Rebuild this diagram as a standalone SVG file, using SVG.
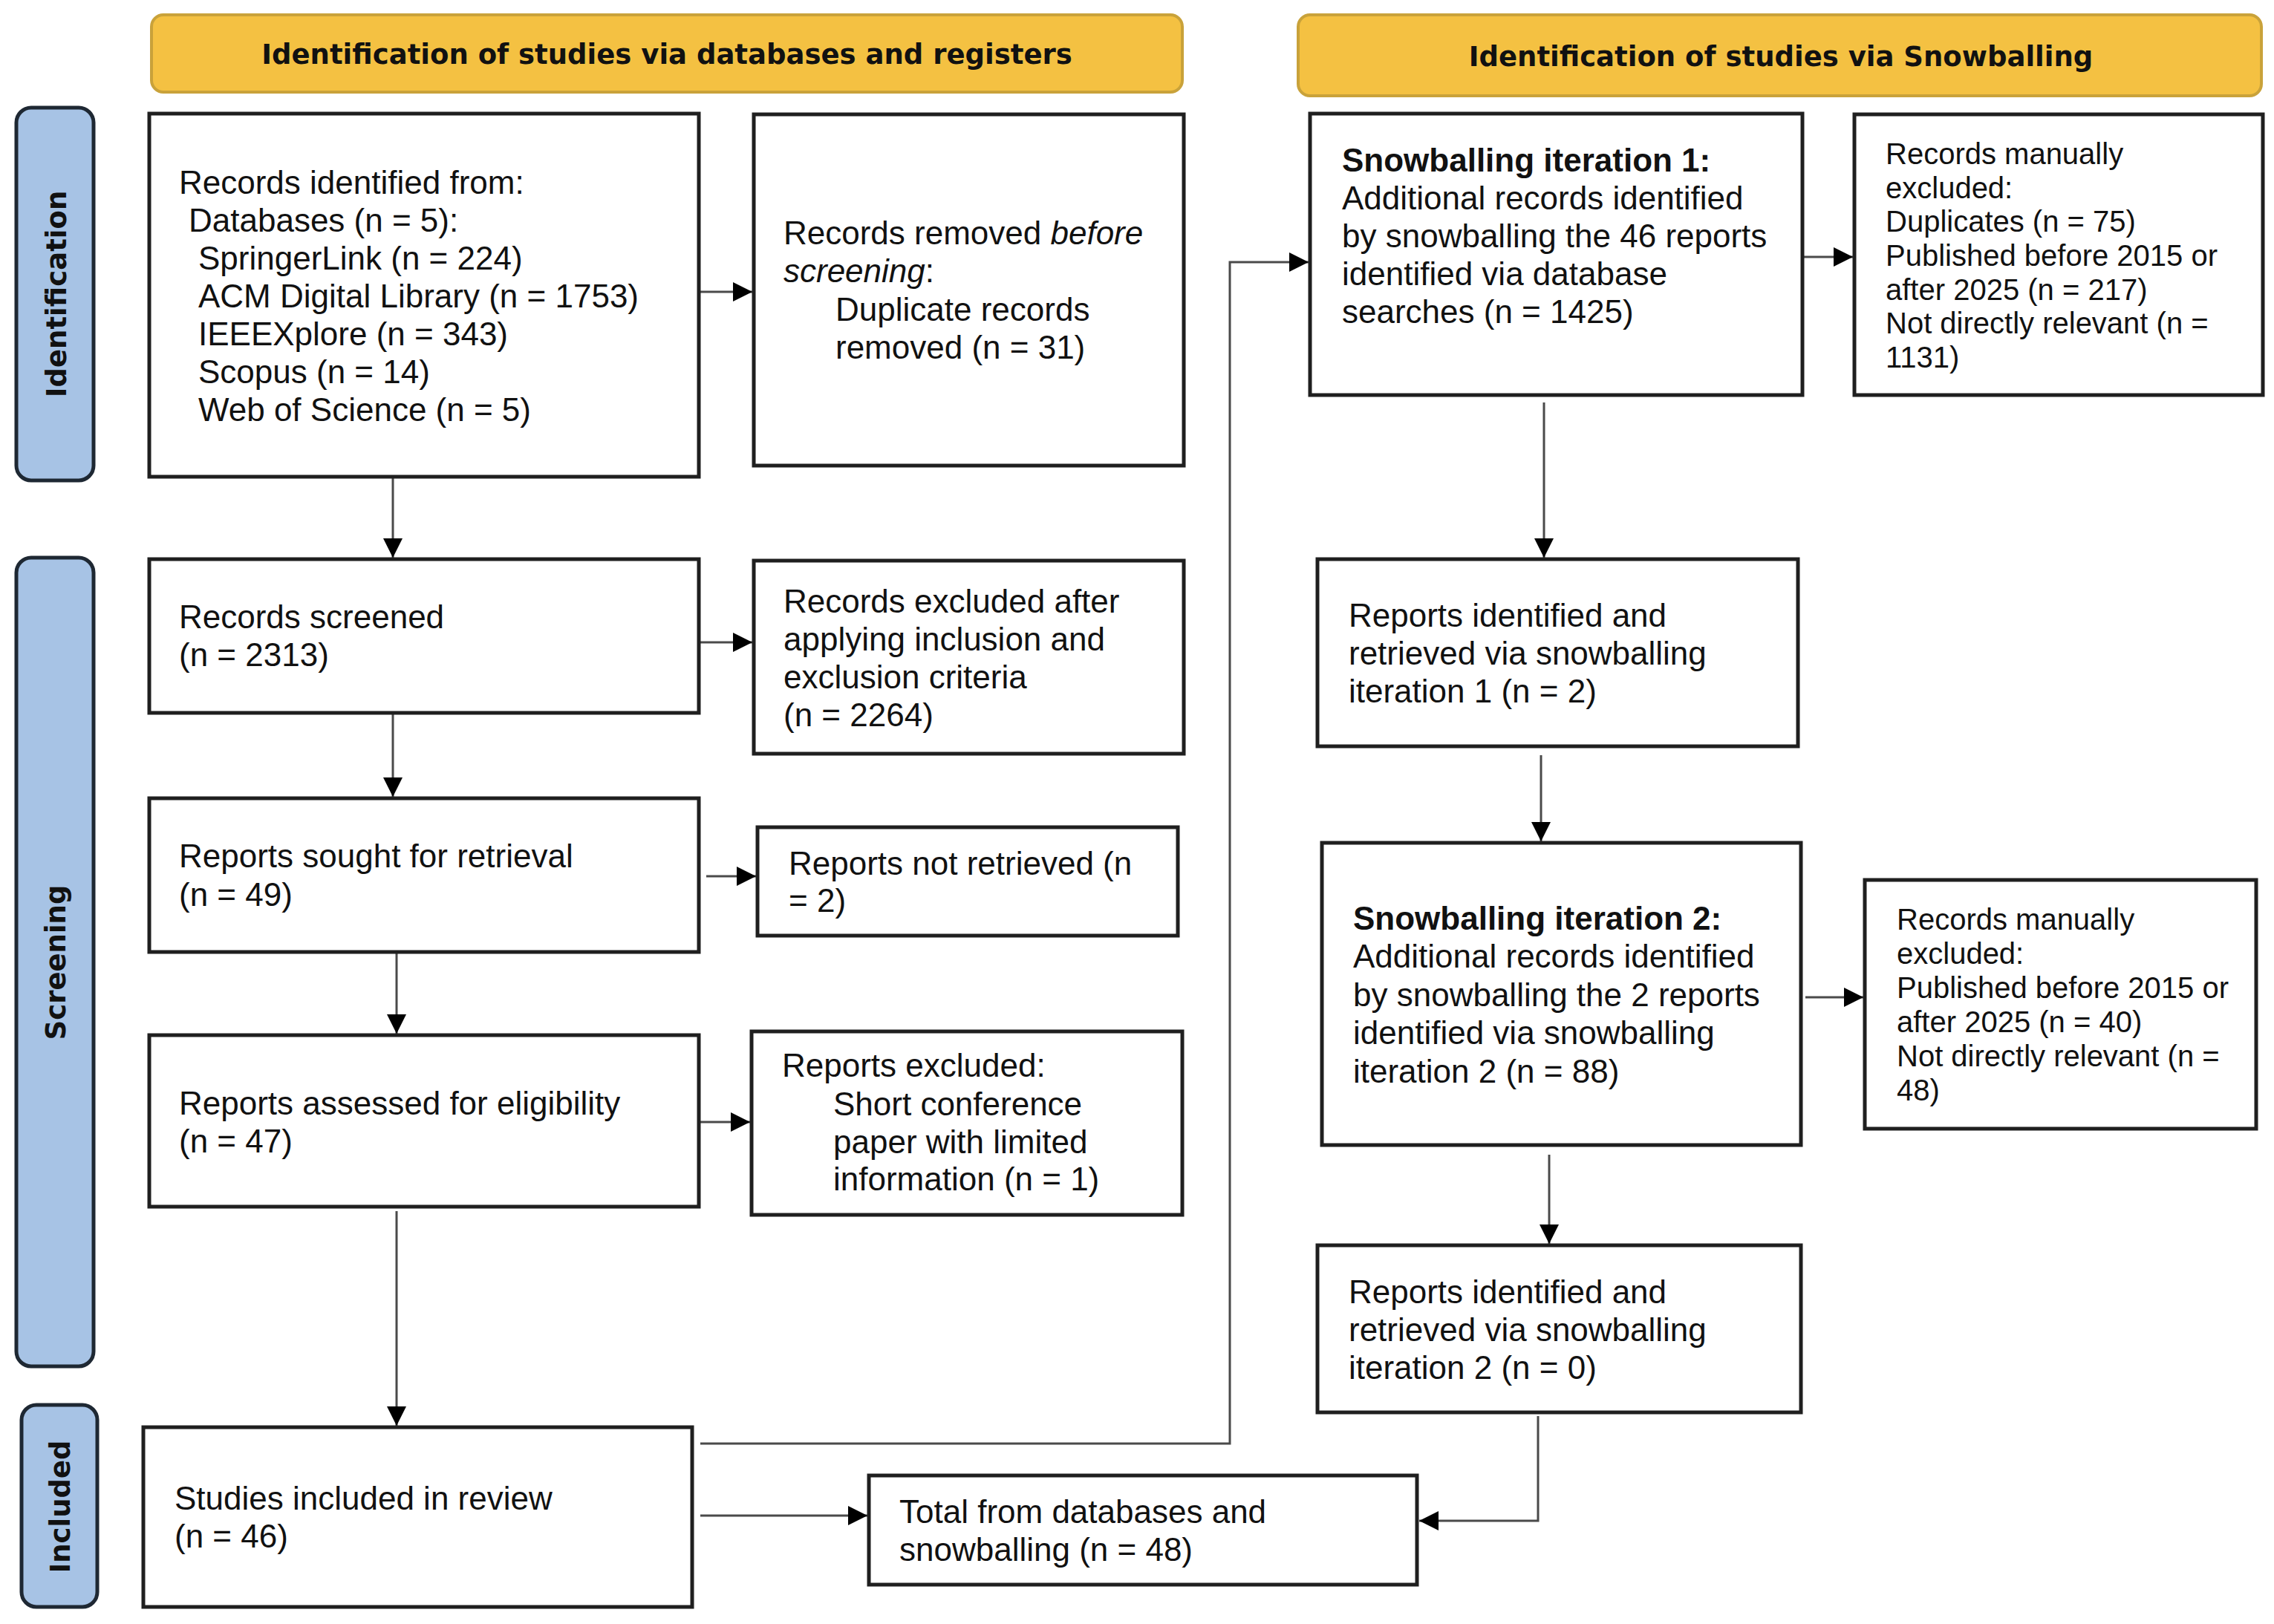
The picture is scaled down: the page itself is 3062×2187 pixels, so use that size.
<svg xmlns="http://www.w3.org/2000/svg" width="3062" height="2187" viewBox="0 0 3062 2187">
<defs>
<style>
.bg{fill:#ffffff}
.hdr{fill:#F4C142;stroke:#C9A23A;stroke-width:4}
.lab{fill:#A7C3E5;stroke:#1E2833;stroke-width:5}
.box{fill:#ffffff;stroke:#1f1f1f;stroke-width:5}
.ht{font-family:"DejaVu Sans",Verdana,sans-serif;font-weight:bold;font-size:37px;fill:#111;text-anchor:middle}
.lt{font-family:"DejaVu Sans",Verdana,sans-serif;font-weight:bold;font-size:37px;fill:#111;text-anchor:middle}
.t{font-family:"Liberation Sans",Arial,sans-serif;font-size:44px;fill:#111}
.s{font-family:"Liberation Sans",Arial,sans-serif;font-size:40px;fill:#111}
.b{font-weight:bold}
.i{font-style:italic}
.ca{fill:none;stroke:#4a4a4a;stroke-width:3;marker-end:url(#ah)}
</style>
<marker id="ah" markerUnits="userSpaceOnUse" markerWidth="28" markerHeight="28" refX="26" refY="13" orient="auto">
<path d="M0,0 L26,13 L0,26 z" fill="#000"/>
</marker>
</defs>
<rect class="bg" x="0" y="0" width="3062" height="2187"/>

<g id="header-databases">
<rect class="hdr" x="204" y="20" width="1388" height="104" rx="16"/>
<text class="ht" x="898" y="86">Identification of studies via databases and registers</text>
</g>
<g id="header-snowballing">
<rect class="hdr" x="1748" y="20" width="1297" height="109" rx="16"/>
<text class="ht" x="2398" y="89">Identification of studies via Snowballing</text>
</g>

<g id="label-identification">
<rect class="lab" x="22" y="145" width="104" height="502" rx="20"/>
<text class="lt" transform="translate(89,396) rotate(-90)">Identification</text>
</g>
<g id="label-screening">
<rect class="lab" x="22" y="751" width="104" height="1089" rx="20"/>
<text class="lt" transform="translate(88,1296) rotate(-90)">Screening</text>
</g>
<g id="label-included">
<rect class="lab" x="29" y="1892" width="102" height="272" rx="20"/>
<text class="lt" transform="translate(94,2029) rotate(-90)">Included</text>
</g>

<g id="connectors">
<path class="ca" d="M943,393 H1013"/>
<path class="ca" d="M529,644 V751"/>
<path class="ca" d="M943,865 H1013"/>
<path class="ca" d="M529,962 V1073"/>
<path class="ca" d="M951,1180 H1018"/>
<path class="ca" d="M534,1284 V1392"/>
<path class="ca" d="M943,1511 H1010"/>
<path class="ca" d="M534,1631 V1920"/>
<path class="ca" d="M943,1944 H1656 V353 H1762"/>
<path class="ca" d="M943,2041 H1168"/>
<path class="ca" d="M2429,346 H2495"/>
<path class="ca" d="M2079,542 V751"/>
<path class="ca" d="M2075,1017 V1133"/>
<path class="ca" d="M2431,1343 H2509"/>
<path class="ca" d="M2086,1555 V1675"/>
<path class="ca" d="M2071,1907 V2048 H1911"/>
</g>

<g id="records-identified">
<rect class="box" x="201" y="153" width="740" height="489"/>
<text class="t" x="241" y="261">Records identified from:</text>
<text class="t" x="254" y="312">Databases (n = 5):</text>
<text class="t" x="267" y="363">SpringerLink (n = 224)</text>
<text class="t" x="267" y="414">ACM Digital Library (n = 1753)</text>
<text class="t" x="267" y="465">IEEEXplore (n = 343)</text>
<text class="t" x="267" y="516">Scopus (n = 14)</text>
<text class="t" x="267" y="567">Web of Science (n = 5)</text>
</g>
<g id="records-removed">
<rect class="box" x="1015" y="154" width="579" height="473"/>
<text class="t" x="1055" y="329">Records removed <tspan class="i">before</tspan></text>
<text class="t" x="1055" y="380"><tspan class="i">screening</tspan>:</text>
<text class="t" x="1125" y="432">Duplicate records</text>
<text class="t" x="1125" y="483">removed (n = 31)</text>
</g>
<g id="records-screened">
<rect class="box" x="201" y="753" width="740" height="207"/>
<text class="t" x="241" y="846">Records screened</text>
<text class="t" x="241" y="897">(n = 2313)</text>
</g>
<g id="records-excluded">
<rect class="box" x="1015" y="755" width="579" height="260"/>
<text class="t" x="1055" y="825">Records excluded after</text>
<text class="t" x="1055" y="876">applying inclusion and</text>
<text class="t" x="1055" y="927">exclusion criteria</text>
<text class="t" x="1055" y="978">(n = 2264)</text>
</g>
<g id="reports-sought">
<rect class="box" x="201" y="1075" width="740" height="207"/>
<text class="t" x="241" y="1168">Reports sought for retrieval</text>
<text class="t" x="241" y="1220">(n = 49)</text>
</g>
<g id="reports-not-retrieved">
<rect class="box" x="1020" y="1114" width="566" height="146"/>
<text class="t" x="1062" y="1178">Reports not retrieved (n</text>
<text class="t" x="1062" y="1228">= 2)</text>
</g>
<g id="reports-assessed">
<rect class="box" x="201" y="1394" width="740" height="231"/>
<text class="t" x="241" y="1501">Reports assessed for eligibility</text>
<text class="t" x="241" y="1552">(n = 47)</text>
</g>
<g id="reports-excluded">
<rect class="box" x="1012" y="1389" width="580" height="247"/>
<text class="t" x="1053" y="1450">Reports excluded:</text>
<text class="t" x="1122" y="1502">Short conference</text>
<text class="t" x="1122" y="1553">paper with limited</text>
<text class="t" x="1122" y="1603">information (n = 1)</text>
</g>
<g id="studies-included">
<rect class="box" x="193" y="1922" width="739" height="242"/>
<text class="t" x="235" y="2033">Studies included in review</text>
<text class="t" x="235" y="2084">(n = 46)</text>
</g>
<g id="total">
<rect class="box" x="1170" y="1987" width="738" height="147"/>
<text class="t" x="1211" y="2051">Total from databases and</text>
<text class="t" x="1211" y="2102">snowballing (n = 48)</text>
</g>

<g id="snowballing-iteration-1">
<rect class="box" x="1764" y="153" width="663" height="379"/>
<text class="t b" x="1807" y="231">Snowballing iteration 1:</text>
<text class="t" x="1807" y="282">Additional records identified</text>
<text class="t" x="1807" y="333">by snowballing the 46 reports</text>
<text class="t" x="1807" y="384">identified via database</text>
<text class="t" x="1807" y="435">searches (n = 1425)</text>
</g>
<g id="manually-excluded-1">
<rect class="box" x="2497" y="154" width="550" height="378"/>
<text class="s" x="2539" y="221">Records manually</text>
<text class="s" x="2539" y="267">excluded:</text>
<text class="s" x="2539" y="312">Duplicates (n = 75)</text>
<text class="s" x="2539" y="358">Published before 2015 or</text>
<text class="s" x="2539" y="404">after 2025 (n = 217)</text>
<text class="s" x="2539" y="449">Not directly relevant (n =</text>
<text class="s" x="2539" y="495">1131)</text>
</g>
<g id="retrieved-iteration-1">
<rect class="box" x="1774" y="753" width="647" height="252"/>
<text class="t" x="1816" y="844">Reports identified and</text>
<text class="t" x="1816" y="895">retrieved via snowballing</text>
<text class="t" x="1816" y="946">iteration 1 (n = 2)</text>
</g>
<g id="snowballing-iteration-2">
<rect class="box" x="1780" y="1135" width="645" height="407"/>
<text class="t b" x="1822" y="1252">Snowballing iteration 2:</text>
<text class="t" x="1822" y="1303">Additional records identified</text>
<text class="t" x="1822" y="1355">by snowballing the 2 reports</text>
<text class="t" x="1822" y="1406">identified via snowballing</text>
<text class="t" x="1822" y="1458">iteration 2 (n = 88)</text>
</g>
<g id="manually-excluded-2">
<rect class="box" x="2511" y="1185" width="527" height="335"/>
<text class="s" x="2554" y="1252">Records manually</text>
<text class="s" x="2554" y="1298">excluded:</text>
<text class="s" x="2554" y="1344">Published before 2015 or</text>
<text class="s" x="2554" y="1390">after 2025 (n = 40)</text>
<text class="s" x="2554" y="1436">Not directly relevant (n =</text>
<text class="s" x="2554" y="1482">48)</text>
</g>
<g id="retrieved-iteration-2">
<rect class="box" x="1774" y="1677" width="651" height="225"/>
<text class="t" x="1816" y="1755">Reports identified and</text>
<text class="t" x="1816" y="1806">retrieved via snowballing</text>
<text class="t" x="1816" y="1857">iteration 2 (n = 0)</text>
</g>
</svg>
